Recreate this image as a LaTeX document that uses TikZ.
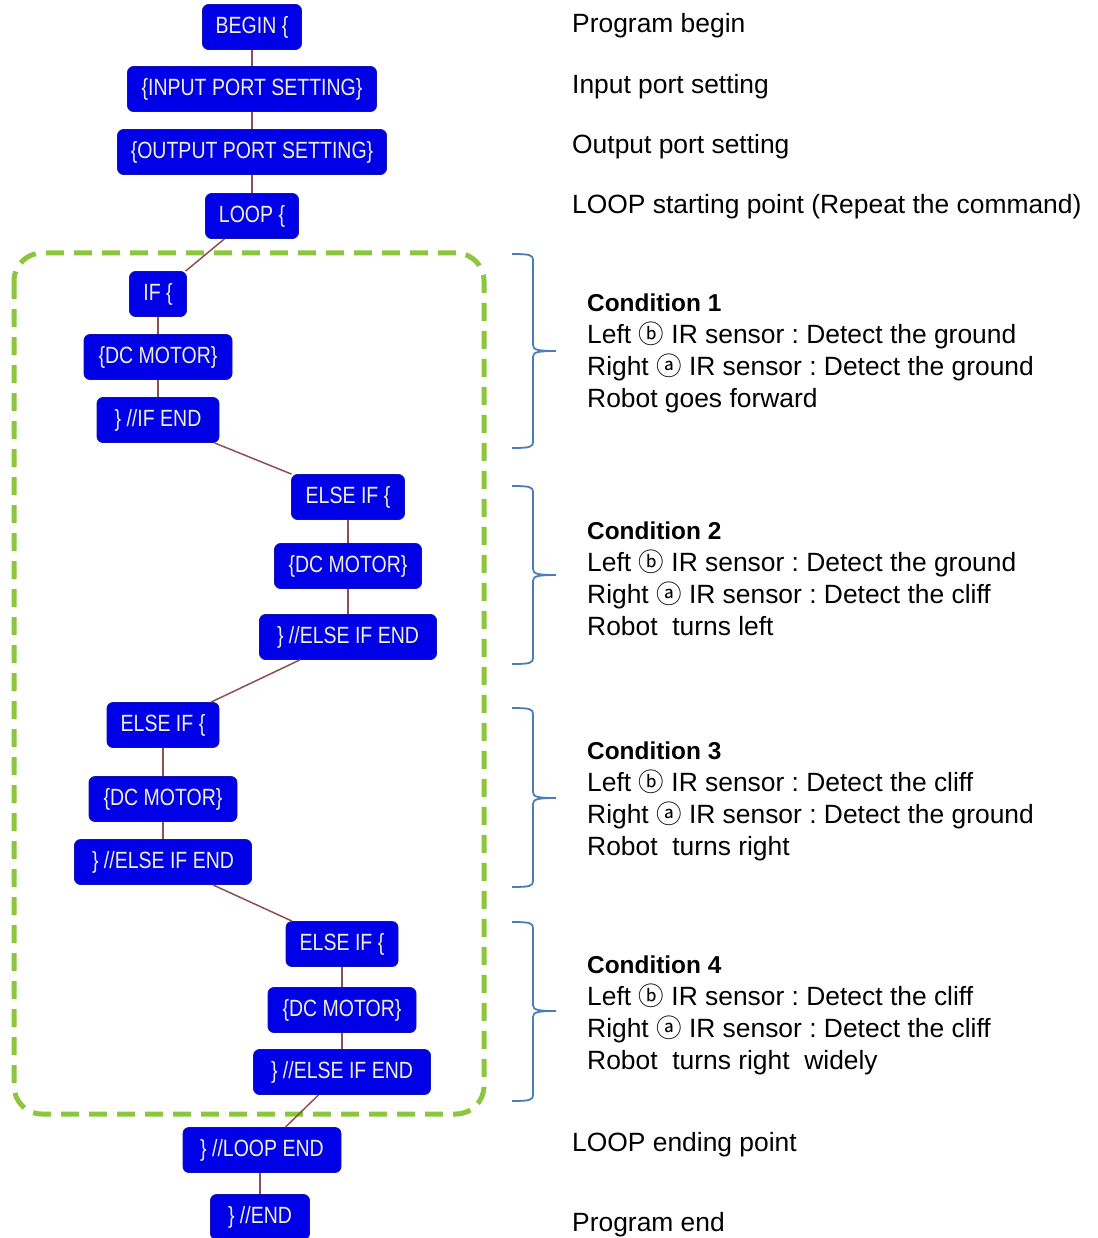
\documentclass[tikz,border=0pt]{standalone}
\usepackage{fontspec}
\setmainfont{Liberation Sans}
\newfontfamily\nodefont[FakeStretch=0.83]{Liberation Sans}
\newfontfamily\symfont{Noto Sans CJK SC}
\definecolor{boxblue}{RGB}{0,0,232}
\definecolor{boxedge}{RGB}{20,20,170}
\definecolor{boxtext}{RGB}{240,240,200}
\definecolor{linkbrown}{RGB}{140,80,80}
\definecolor{dashgreen}{RGB}{140,198,63}
\definecolor{bracebl}{RGB}{74,126,187}
\newcommand{\ca}{{\symfont\fontsize{25.5}{32}\selectfont ⓐ}}
\newcommand{\cb}{{\symfont\fontsize{25.5}{32}\selectfont ⓑ}}
\frenchspacing
\begin{document}
\begin{tikzpicture}[x=1pt,y=-1pt,
  blk/.style={draw=boxedge,line width=0.8pt,fill=boxblue,rounded corners=6pt,
    text=boxtext,font=\nodefont\fontsize{23.5}{26}\selectfont,minimum height=45pt,inner sep=0pt},
  link/.style={draw=linkbrown,line width=1.5pt},
  note/.style={anchor=west,inner sep=0pt,font=\fontsize{26.4}{32}\selectfont,align=left},
  brc/.style={draw=bracebl,line width=1.8pt}]
\useasboundingbox (0,0) rectangle (1097,1238);
% dashed region
\draw[dashgreen,line width=5pt,dash pattern=on 18pt off 10pt,rounded corners=28pt]
  (14,253) rectangle (484,1114);
% nodes
\node[blk,minimum width=99pt]  (begin) at (252,27)  {BEGIN \{};
\node[blk,minimum width=249pt] (inp)   at (252,89)  {\{INPUT PORT SETTING\}};
\node[blk,minimum width=269pt] (outp)  at (252,152) {\{OUTPUT PORT SETTING\}};
\node[blk,minimum width=93pt]  (loop)  at (252,216) {LOOP \{};
\node[blk,minimum width=57pt]  (if)    at (158,294) {IF \{};
\node[blk,minimum width=148pt] (dc1)   at (158,357) {\{DC MOTOR\}};
\node[blk,minimum width=122pt] (ifend) at (158,420) {\} //IF END};
\node[blk,minimum width=113pt] (ei1)   at (348,497) {ELSE IF \{};
\node[blk,minimum width=147pt] (dc2)   at (348,566) {\{DC MOTOR\}};
\node[blk,minimum width=177pt] (eie1)  at (348,637) {\} //ELSE IF END};
\node[blk,minimum width=112pt] (ei2)   at (163,725) {ELSE IF \{};
\node[blk,minimum width=148pt] (dc3)   at (163,799) {\{DC MOTOR\}};
\node[blk,minimum width=177pt] (eie2)  at (163,862) {\} //ELSE IF END};
\node[blk,minimum width=112pt] (ei3)   at (342,944) {ELSE IF \{};
\node[blk,minimum width=148pt] (dc4)   at (342,1010) {\{DC MOTOR\}};
\node[blk,minimum width=177pt] (eie3)  at (342,1072) {\} //ELSE IF END};
\node[blk,minimum width=158pt] (lend)  at (262,1150) {\} //LOOP END};
\node[blk,minimum width=99pt]  (pend)  at (260,1217) {\} //END};
% links
\draw[link] (begin) -- (inp);
\draw[link] (inp) -- (outp);
\draw[link] (outp) -- (loop);
\draw[link] (loop) -- (if);
\draw[link] (if) -- (dc1);
\draw[link] (dc1) -- (ifend);
\draw[link] (ifend) -- (ei1);
\draw[link] (ei1) -- (dc2);
\draw[link] (dc2) -- (eie1);
\draw[link] (eie1) -- (ei2);
\draw[link] (ei2) -- (dc3);
\draw[link] (dc3) -- (eie2);
\draw[link] (eie2) -- (ei3);
\draw[link] (ei3) -- (dc4);
\draw[link] (dc4) -- (eie3);
\draw[link] (eie3) -- (lend);
\draw[link] (lend.south -| pend.north) -- (pend);
% braces
\foreach \t/\m/\b in {254/351/448, 486/575/664, 708/798/887, 922/1011/1101}{
  \draw[brc] (512,\t) .. controls (530,\t) and (533,\t+1) .. (533,\t+6)
    -- (533,\m-6) .. controls (533,\m-1) and (538,\m) .. (556,\m)
    .. controls (538,\m) and (533,\m+1) .. (533,\m+6)
    -- (533,\b-6) .. controls (533,\b-1) and (530,\b) .. (512,\b);
}
% notes
\node[note] (n1) at (572,26)  {Program begin};
\node[note] (n2) at (572,87)  {Input port setting};
\node[note] (n3) at (572,147) {Output port setting};
\node[note] (n4) at (572,207) {LOOP starting point (Repeat the command)};
\node[note] (c1) at (587,353) {{\bfseries\fontsize{24.4}{32}\selectfont Condition 1}\\Left \cb{} IR sensor : Detect the ground\\Right \ca{} IR sensor : Detect the ground\\Robot goes forward};
\node[note] (c2) at (587,579) {{\bfseries\fontsize{24.4}{32}\selectfont Condition 2}\\Left \cb{} IR sensor : Detect the ground\\Right \ca{} IR sensor : Detect the cliff\\Robot\ \ turns left};
\node[note] (c3) at (587,801) {{\bfseries\fontsize{24.4}{32}\selectfont Condition 3}\\Left \cb{} IR sensor : Detect the cliff\\Right \ca{} IR sensor : Detect the ground\\Robot\ \ turns right};
\node[note] (c4) at (587,1015) {{\bfseries\fontsize{24.4}{32}\selectfont Condition 4}\\Left \cb{} IR sensor : Detect the cliff\\Right \ca{} IR sensor : Detect the cliff\\Robot\ \ turns right\ \ widely};
\node[note] (n5) at (572,1145) {LOOP ending point};
\node[note] (n6) at (572,1225) {Program end};
\end{tikzpicture}
\end{document}
